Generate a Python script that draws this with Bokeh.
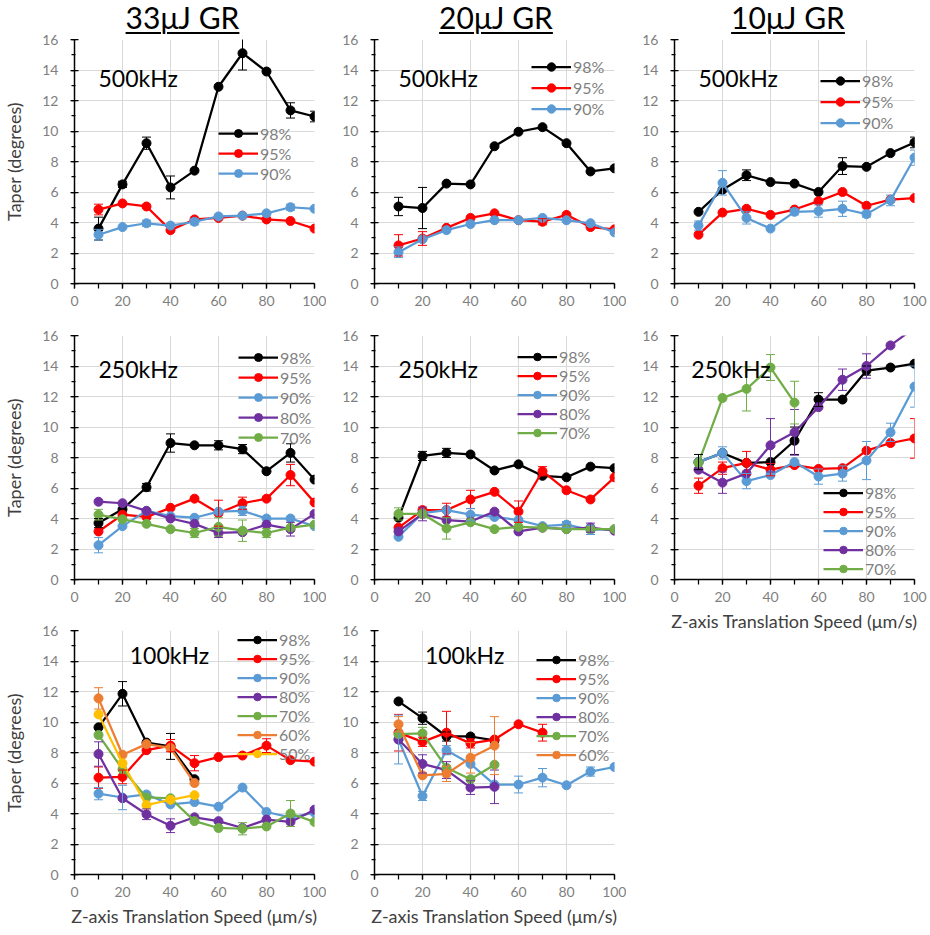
from bokeh.plotting import figure
from bokeh.models import (Range1d, Legend, LegendItem, Label, Whisker, ColumnDataSource,
                          TeeHead, Div, SingleIntervalTicker)
from bokeh.layouts import column, row
from bokeh.embed import file_html
from bokeh.resources import INLINE

FONT = "Lato"

# ---------------- data ----------------
speed_all = [10, 20, 30, 40, 50, 60, 70, 80, 90, 100]
speed_low = [10, 20, 30, 40, 50]
speed_70 = [10, 20, 30, 40, 50, 60, 70]

col_titles = ["33μJ GR", "20μJ GR", "10μJ GR"]
freq_labels = ["500kHz", "250kHz", "100kHz"]

# 33uJ, 500kHz
a33_500_98 = [3.6, 6.5, 9.2, 6.3, 7.4, 12.9, 15.1, 13.9, 11.35, 10.95]
a33_500_98_err = [0.75, 0.2, 0.4, 0.75, 0, 0, 1.1, 0, 0.5, 0.35]
a33_500_95 = [4.85, 5.25, 5.05, 3.5, 4.2, 4.3, 4.45, 4.2, 4.1, 3.6]
a33_500_95_err = [0.35, 0, 0, 0, 0, 0, 0, 0, 0, 0]
a33_500_90 = [3.2, 3.7, 3.95, 3.8, 4.05, 4.4, 4.45, 4.6, 5.0, 4.9]
a33_500_90_err = [0.35, 0, 0.2, 0, 0.2, 0, 0, 0, 0.2, 0]

# 20uJ, 500kHz
a20_500_98 = [5.05, 4.95, 6.55, 6.5, 9.0, 9.95, 10.25, 9.2, 7.35, 7.55]
a20_500_98_err = [0.6, 1.35, 0, 0, 0, 0, 0, 0, 0, 0]
a20_500_95 = [2.5, 2.95, 3.65, 4.3, 4.6, 4.15, 4.05, 4.5, 3.7, 3.55]
a20_500_95_err = [0.7, 0.45, 0, 0, 0, 0, 0.2, 0, 0, 0]
a20_500_90 = [2.05, 2.9, 3.5, 3.9, 4.15, 4.15, 4.3, 4.15, 3.95, 3.35]
a20_500_90_err = [0.35, 0, 0, 0, 0, 0, 0, 0, 0, 0]

# 10uJ, 500kHz
a10_500_98 = [4.7, 6.15, 7.1, 6.65, 6.55, 6.0, 7.7, 7.65, 8.55, 9.25]
a10_500_98_err = [0, 0, 0.35, 0, 0, 0, 0.55, 0, 0, 0.35]
a10_500_95 = [3.2, 4.65, 4.9, 4.5, 4.85, 5.4, 6.0, 5.1, 5.5, 5.6]
a10_500_95_err = [0, 0, 0, 0, 0, 0, 0, 0, 0, 0]
a10_500_90 = [3.8, 6.6, 4.3, 3.6, 4.7, 4.75, 4.9, 4.55, 5.45, 8.25]
a10_500_90_err = [0.3, 0.8, 0.4, 0, 0.2, 0.4, 0.5, 0.2, 0.35, 0.5]

# 33uJ, 250kHz
a33_250_98 = [3.7, 4.6, 6.05, 8.95, 8.8, 8.8, 8.55, 7.1, 8.3, 6.55]
a33_250_98_err = [0.3, 0, 0.25, 0.6, 0, 0.3, 0.3, 0, 0.6, 0]
a33_250_95 = [3.15, 4.25, 4.1, 4.7, 5.3, 4.35, 5.0, 5.3, 6.85, 5.05]
a33_250_95_err = [0, 0, 0, 0, 0, 0.85, 0.4, 0, 0.7, 0]
a33_250_90 = [2.25, 3.5, 4.5, 4.15, 4.05, 4.45, 4.5, 4.0, 4.0, 3.5]
a33_250_90_err = [0.5, 0, 0, 0, 0, 0, 0.3, 0, 0, 0]
a33_250_80 = [5.1, 5.0, 4.5, 4.0, 3.65, 3.05, 3.1, 3.6, 3.3, 4.3]
a33_250_80_err = [0, 0, 0, 0, 0, 0.3, 0, 0, 0.45, 0]
a33_250_70 = [4.25, 3.95, 3.65, 3.3, 3.05, 3.45, 3.2, 3.05, 3.4, 3.6]
a33_250_70_err = [0.35, 0, 0, 0, 0.3, 0.6, 0.7, 0.3, 0, 0]

# 20uJ, 250kHz
a20_250_98 = [4.05, 8.1, 8.3, 8.2, 7.15, 7.55, 6.8, 6.7, 7.4, 7.3]
a20_250_98_err = [0, 0.3, 0.3, 0, 0, 0, 0, 0, 0, 0]
a20_250_95 = [3.4, 4.55, 4.55, 5.25, 5.75, 4.45, 7.1, 5.85, 5.25, 6.7]
a20_250_95_err = [0, 0, 0.45, 0.6, 0, 0.7, 0.3, 0, 0, 0]
a20_250_90 = [2.8, 4.35, 4.55, 4.25, 4.1, 3.9, 3.5, 3.6, 3.25, 3.3]
a20_250_90_err = [0, 0, 0, 0.4, 0, 0, 0, 0.2, 0.3, 0]
a20_250_80 = [3.15, 4.3, 3.9, 3.8, 4.45, 3.15, 3.4, 3.3, 3.4, 3.2]
a20_250_80_err = [0, 0.45, 0, 0, 0, 0, 0, 0, 0.3, 0]
a20_250_70 = [4.3, 4.3, 3.35, 3.75, 3.3, 3.45, 3.4, 3.3, 3.3, 3.3]
a20_250_70_err = [0.4, 0, 0.7, 0, 0, 0, 0, 0, 0, 0]

# 10uJ, 250kHz
a10_250_98 = [7.7, 8.3, 7.65, 7.7, 9.1, 11.8, 11.8, 13.7, 13.9, 14.15]
a10_250_98_err = [0.5, 0, 0, 0, 0.9, 0.45, 0, 0.3, 0, 0]
a10_250_95 = [6.15, 7.3, 7.65, 7.2, 7.5, 7.25, 7.3, 8.45, 8.95, 9.25]
a10_250_95_err = [0.5, 0.4, 0.75, 0.4, 0, 0, 0, 0, 0, 1.3]
a10_250_90 = [7.7, 8.3, 6.45, 6.85, 7.7, 6.75, 6.95, 7.8, 9.65, 12.65]
a10_250_90_err = [0, 0.4, 0.5, 0, 0, 0.5, 0.5, 1.25, 0.6, 1.35]
a10_250_80 = [7.2, 6.35, 6.95, 8.8, 9.65, 11.3, 13.1, 14.0, 15.35, 16.5]
a10_250_80_err = [0, 0.7, 0, 1.75, 1.5, 0, 0.7, 0.8, 0, 0]
a10_250_70 = [7.65, 11.9, 12.5, 13.9, 11.6]
a10_250_70_err = [0, 0, 1.45, 0.85, 1.4]

# 33uJ, 100kHz
a33_100_98 = [9.65, 11.85, 8.65, 8.4, 6.25]
a33_100_98_err = [0, 0.8, 0, 0.85, 0]
a33_100_95 = [6.35, 6.4, 8.15, 8.45, 7.3, 7.7, 7.8, 8.45, 7.5, 7.4]
a33_100_95_err = [0.7, 0.45, 0, 0.4, 0.5, 0, 0, 0.45, 0, 0]
a33_100_90 = [5.3, 5.05, 5.25, 4.6, 4.75, 4.45, 5.7, 4.1, 3.75, 4.05]
a33_100_90_err = [0.4, 0.8, 0, 0, 0, 0, 0, 0, 0, 0]
a33_100_80 = [7.9, 5.0, 3.95, 3.2, 3.75, 3.5, 3.05, 3.6, 3.45, 4.25]
a33_100_80_err = [0.8, 0, 0.35, 0.45, 0, 0, 0, 0, 0, 0]
a33_100_70 = [9.15, 6.9, 5.05, 5.0, 3.5, 3.05, 3.0, 3.15, 4.0, 3.45]
a33_100_70_err = [0, 0, 0, 0, 0, 0, 0.4, 0, 0.85, 0]
a33_100_60 = [11.55, 7.85, 8.55, 8.3, 6.0]
a33_100_60_err = [0.7, 0, 0, 0, 0]
a33_100_50 = [10.5, 7.3, 4.55, 4.9, 5.2]
a33_100_50_err = [0, 0, 0, 0, 0]

# 20uJ, 100kHz
a20_100_98 = [11.35, 10.25, 9.05, 9.05, 8.8]
a20_100_98_err = [0, 0.4, 0.3, 0, 0]
a20_100_95 = [9.3, 8.7, 9.3, 8.6, 8.85, 9.85, 9.3]
a20_100_95_err = [1.2, 0.3, 1.4, 0.3, 0, 0, 0.55]
a20_100_90 = [8.85, 5.15, 8.15, 7.25, 5.9, 5.9, 6.35, 5.85, 6.75, 7.05]
a20_100_90_err = [1.6, 0.3, 0.3, 0, 0, 0.55, 0.6, 0, 0.3, 0]
a20_100_80 = [8.85, 7.25, 6.85, 5.7, 5.75]
a20_100_80_err = [0, 0.6, 0.55, 0.45, 1.1]
a20_100_70 = [9.2, 9.25, 7.0, 6.25, 7.2]
a20_100_70_err = [0, 0.4, 0, 0, 0]
a20_100_60 = [9.85, 6.5, 6.6, 7.65, 8.45]
a20_100_60_err = [0.5, 0, 0.5, 1.0, 1.9]

COLORS = {"98%": "#000000", "95%": "#FF0000", "90%": "#5B9BD5", "80%": "#7030A0",
          "70%": "#70AD47", "60%": "#ED7D31", "50%": "#FFC000"}

FRAME_W = 240
FRAME_H = 244


def make_panel(series, freq_label, label_pos, legend_pos, legend_row_h,
               left, right, top, bottom, ylabel=False, xlabel=False):
    p = figure(frame_width=FRAME_W, frame_height=FRAME_H,
               x_range=Range1d(0, 100), y_range=Range1d(0, 16),
               output_backend="svg", toolbar_location=None,
               min_border_left=left, min_border_right=right,
               min_border_top=top, min_border_bottom=bottom)
    p.outline_line_color = None
    p.background_fill_color = "white"
    p.border_fill_color = None
    xt = SingleIntervalTicker(interval=20, num_minor_ticks=2)
    yt = SingleIntervalTicker(interval=2, num_minor_ticks=2)
    p.xaxis.ticker = xt
    p.yaxis.ticker = yt
    p.xgrid.ticker = xt
    p.ygrid.ticker = yt
    for g in (p.xgrid, p.ygrid):
        g.grid_line_color = "#D9D9D9"
        g.grid_line_width = 1
    for ax in (p.xaxis, p.yaxis):
        ax.axis_line_color = "black"
        ax.axis_line_width = 1.5
        ax.major_tick_line_color = "black"
        ax.minor_tick_line_color = "black"
        ax.major_tick_line_width = 1.25
        ax.minor_tick_line_width = 1.25
        ax.major_label_text_font = FONT
        ax.major_label_text_font_size = "14px"
        ax.major_label_text_color = "#7F7F7F"
        ax.axis_label_text_font = FONT
        ax.axis_label_text_font_size = "18px"
        ax.axis_label_text_font_style = "normal"
        ax.axis_label_text_color = "#404040"
    p.xaxis.major_tick_in = 0
    p.xaxis.major_tick_out = 5
    p.xaxis.minor_tick_in = 0
    p.xaxis.minor_tick_out = 5
    p.yaxis.major_tick_in = 4
    p.yaxis.major_tick_out = 4
    p.yaxis.minor_tick_in = 1
    p.yaxis.minor_tick_out = 3
    p.xaxis.major_label_standoff = 7
    p.yaxis.major_label_standoff = 12
    if ylabel:
        p.yaxis.axis_label = "Taper (degrees)"
        p.yaxis.axis_label_standoff = 14
    if xlabel:
        p.xaxis.axis_label = "Z-axis Translation Speed (μm/s)"
        p.xaxis.axis_label_standoff = 5

    items = []
    for name, xs, ys, errs in series:
        c = COLORS[name]
        wx = [x for x, e in zip(xs, errs) if e > 0]
        wu = [y + e for y, e in zip(ys, errs) if e > 0]
        wl = [y - e for y, e in zip(ys, errs) if e > 0]
        if wx:
            src = ColumnDataSource(dict(x=wx, upper=wu, lower=wl))
            w = Whisker(base="x", upper="upper", lower="lower", source=src,
                        line_color=c, line_width=1, level="glyph",
                        upper_head=TeeHead(size=9, line_color=c, line_width=1),
                        lower_head=TeeHead(size=9, line_color=c, line_width=1))
            p.add_layout(w)
        lr = p.line(xs, ys, line_color=c, line_width=2.25)
        sr = p.scatter(xs, ys, marker="circle", size=9, fill_color=c, line_color=c)
        items.append(LegendItem(label=name, renderers=[lr, sr]))

    legend = Legend(items=items, location=legend_pos, orientation="vertical",
                    border_line_color=None, background_fill_alpha=0,
                    padding=0, margin=0, spacing=0,
                    glyph_width=40, glyph_height=legend_row_h, label_height=legend_row_h,
                    label_standoff=2, label_text_font=FONT, label_text_font_size="16px",
                    label_text_color="#7F7F7F")
    p.add_layout(legend)
    p.add_layout(Label(x=label_pos[0], y=label_pos[1], text=freq_label,
                       text_font=FONT, text_font_size="23px", text_color="#000000",
                       text_baseline="alphabetic"))
    return p


def title_div(text, width, shift):
    html = ('<div style="width:%dpx;height:30px;margin:0;padding:3px 0 0 %dpx;box-sizing:border-box;'
            'text-align:center;font-family:Lato;font-size:30px;line-height:28px;color:#000;'
            'white-space:nowrap;overflow:visible;text-decoration:underline;'
            'text-decoration-thickness:2px;text-underline-offset:3px">%s</div>'
            % (width, 2 * shift, text))
    return Div(text=html, width=width, height=30, margin=(0, 0, 0, 0),
               styles={"height": "30px", "overflow": "visible"})


# left / right borders of the three columns
L1, R1 = 73, 12
L2, R2 = 48, 12
L3, R3 = 48, 14
W1, W2, W3 = L1 + FRAME_W + R1, L2 + FRAME_W + R2, L3 + FRAME_W + R3
TOP1 = 9

p1 = make_panel([("98%", speed_all, a33_500_98, a33_500_98_err),
                 ("95%", speed_all, a33_500_95, a33_500_95_err),
                 ("90%", speed_all, a33_500_90, a33_500_90_err)],
                freq_labels[0], (10, 13.5), (144, 100), 20, L1, R1, TOP1, 40, ylabel=True)
p2 = make_panel([("98%", speed_all, a20_500_98, a20_500_98_err),
                 ("95%", speed_all, a20_500_95, a20_500_95_err),
                 ("90%", speed_all, a20_500_90, a20_500_90_err)],
                freq_labels[0], (10, 13.5), (157, 164), 21, L2, R2, TOP1, 40)
p3 = make_panel([("98%", speed_all, a10_500_98, a10_500_98_err),
                 ("95%", speed_all, a10_500_95, a10_500_95_err),
                 ("90%", speed_all, a10_500_90, a10_500_90_err)],
                freq_labels[0], (10, 13.5), (146, 150), 21, L3, R3, TOP1, 40)

p4 = make_panel([("98%", speed_all, a33_250_98, a33_250_98_err),
                 ("95%", speed_all, a33_250_95, a33_250_95_err),
                 ("90%", speed_all, a33_250_90, a33_250_90_err),
                 ("80%", speed_all, a33_250_80, a33_250_80_err),
                 ("70%", speed_all, a33_250_70, a33_250_70_err)],
                freq_labels[1], (10, 13.8), (164, 132), 20, L1, R1, 12, 39, ylabel=True)
p5 = make_panel([("98%", speed_all, a20_250_98, a20_250_98_err),
                 ("95%", speed_all, a20_250_95, a20_250_95_err),
                 ("90%", speed_all, a20_250_90, a20_250_90_err),
                 ("80%", speed_all, a20_250_80, a20_250_80_err),
                 ("70%", speed_all, a20_250_70, a20_250_70_err)],
                freq_labels[1], (10, 13.8), (143, 137), 19, L2, R2, 12, 39)
p6 = make_panel([("98%", speed_all, a10_250_98, a10_250_98_err),
                 ("95%", speed_all, a10_250_95, a10_250_95_err),
                 ("90%", speed_all, a10_250_90, a10_250_90_err),
                 ("80%", speed_all, a10_250_80, a10_250_80_err),
                 ("70%", speed_low, a10_250_70, a10_250_70_err)],
                freq_labels[1], (7, 13.8), (149, 1), 19, L3, R3, 12, 56, xlabel=True)

p7 = make_panel([("98%", speed_low, a33_100_98, a33_100_98_err),
                 ("95%", speed_all, a33_100_95, a33_100_95_err),
                 ("90%", speed_all, a33_100_90, a33_100_90_err),
                 ("80%", speed_all, a33_100_80, a33_100_80_err),
                 ("70%", speed_all, a33_100_70, a33_100_70_err),
                 ("60%", speed_low, a33_100_60, a33_100_60_err),
                 ("50%", speed_low, a33_100_50, a33_100_50_err)],
                freq_labels[2], (23, 14.4), (163, 111), 19, L1, R1, 12, 56, ylabel=True, xlabel=True)
p8 = make_panel([("98%", speed_low, a20_100_98, a20_100_98_err),
                 ("95%", speed_70, a20_100_95, a20_100_95_err),
                 ("90%", speed_all, a20_100_90, a20_100_90_err),
                 ("80%", speed_low, a20_100_80, a20_100_80_err),
                 ("70%", speed_low, a20_100_70, a20_100_70_err),
                 ("60%", speed_low, a20_100_60, a20_100_60_err)],
                freq_labels[2], (21, 14.4), (162, 110), 19, L2, R2, 12, 56, xlabel=True)

# title centres (px from each column's left edge) minus column centre
d1 = title_div(col_titles[0], W1, 182 - W1 // 2)
d2 = title_div(col_titles[1], W2, (495 - W1) - W2 // 2)
d3 = title_div(col_titles[2], W3, (787 - W1 - W2) - W3 // 2)

layout = row(column(d1, p1, p4, p7, spacing=0),
             column(d2, p2, p5, p8, spacing=0),
             column(d3, p3, p6, spacing=0), spacing=0)

open("out.html", "w").write(file_html(layout, INLINE))
